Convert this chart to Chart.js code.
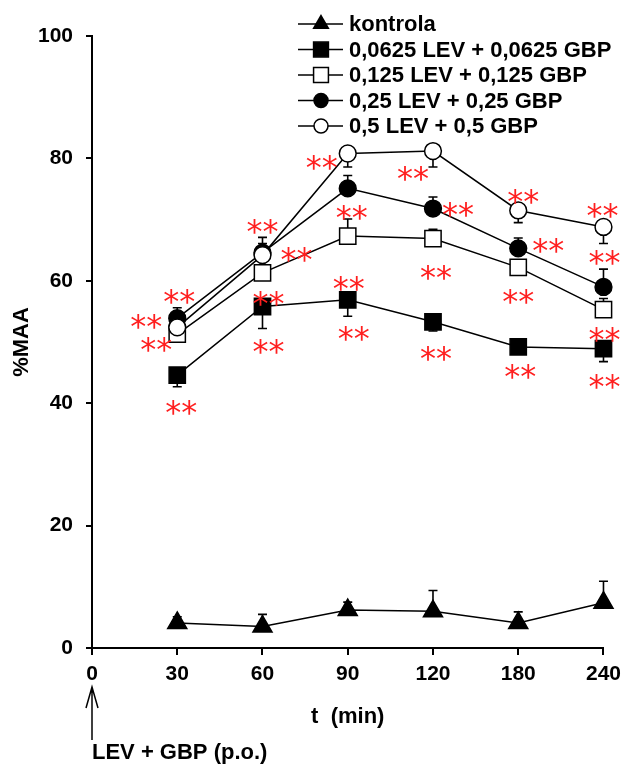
<!DOCTYPE html>
<html>
<head>
<meta charset="utf-8">
<script src="https://cdn.jsdelivr.net/npm/chart.js@4"></script>
<style>
html, body { margin: 0; padding: 0; background: #fff; }
#wrap { width: 628px; height: 764px; }
</style>
</head>
<body>
<div id="wrap"><canvas id="maaChart" width="628" height="764"></canvas></div>
<script>
// ===== PODACI =====
const vremena = ["0", "30", "60", "90", "120", "180", "240"];
const yPodela = [0, 20, 40, 60, 80, 100];
const nazivi = [
    "kontrola",
    "0,0625 LEV + 0,0625 GBP",
    "0,125 LEV + 0,125 GBP",
    "0,25 LEV + 0,25 GBP",
    "0,5 LEV + 0,5 GBP"
];

const kontrola    = [null, 4.1, 3.5, 6.2, 6.0, 4.1, 7.4];
const doza0625    = [null, 44.6, 55.8, 56.9, 53.3, 49.2, 48.9];
const doza125     = [null, 51.3, 61.3, 67.3, 66.9, 62.2, 55.3];
const doza25      = [null, 53.9, 64.6, 75.1, 71.8, 65.3, 59.0];
const doza5       = [null, 52.4, 64.2, 80.8, 81.2, 71.5, 68.8];

// SEM
const kontrolaSem = [null, 1.0, 2.0, 1.3, 3.4, 1.8, 3.5];
const doza0625Sem = [null, 1.9, 3.6, 2.7, 1.5, 0.8, 2.1];
const doza125Sem  = [null, 1.0, 1.0, 2.8, 1.5, 1.0, 1.8];
const doza25Sem   = [null, 1.7, 1.5, 2.1, 1.9, 1.7, 2.9];
const doza5Sem    = [null, 0.8, 2.9, 2.2, 2.6, 2.0, 2.7];

// ===== IZGLED =====
const FONT = "'Liberation Sans', Arial, sans-serif";
const serije = [kontrola, doza0625, doza125, doza25, doza5];
const greske = [kontrolaSem, doza0625Sem, doza125Sem, doza25Sem, doza5Sem];
// smer error bara: 1 gore, -1 dole
const smer = [
    [0, 1, 1, 1, 1, 1, 1],
    [0, -1, -1, -1, -1, -1, -1],
    [0, 1, 1, 1, 1, 1, 1],
    [0, 1, 1, 1, 1, 1, 1],
    [0, -1, 1, -1, -1, -1, -1]
];
const markeri = [
    { style: "triangle", r: 11, fill: "#000", lr: 8.5 },
    { style: "rect", r: 11.5, fill: "#000", lr: 10.5 },
    { style: "rect", r: 11.5, fill: "#fff", lr: 10.5 },
    { style: "circle", r: 8.4, fill: "#000", lr: 7 },
    { style: "circle", r: 8.4, fill: "#fff", lr: 7 }
];
// zvezdice: [serija, tacka, dx, dy] u pikselima od tacke
const zvezdice = [
    [3, 1, 2, -25], [3, 1, -31, 0], [2, 1, -21, 7], [1, 1, 4, 29],
    [4, 2, 0, -32], [3, 2, 34, -2], [1, 2, 6, -12], [1, 2, 6, 36],
    [4, 3, -26, 5], [3, 3, 4, 21], [1, 3, 1, -20], [1, 3, 6, 30],
    [4, 4, -20, 19], [3, 4, 25, -3], [2, 4, 3, 30], [1, 4, 3, 28],
    [4, 5, 5, -17], [3, 5, 30, -6], [2, 5, 0, 26], [1, 5, 2, 21],
    [4, 6, -1, -20], [4, 6, 1, 27], [2, 6, 1, 21], [1, 6, 1, 29]
];

function nacrtajMarker(ctx, style, r, x, y) {
    ctx.beginPath();
    if (style === "circle") {
        ctx.arc(x, y, r, 0, Math.PI * 2);
    } else if (style === "rect") {
        const s = r * Math.SQRT1_2;
        ctx.rect(x - s, y - s, 2 * s, 2 * s);
    } else {
        const w = r * Math.sin(Math.PI / 3);
        ctx.moveTo(x, y - r);
        ctx.lineTo(x + w, y + r / 2);
        ctx.lineTo(x - w, y + r / 2);
        ctx.closePath();
    }
    ctx.fill();
    ctx.stroke();
}

const errorBarovi = {
    id: "errorBarovi",
    beforeDatasetsDraw(chart) {
        const ctx = chart.ctx;
        const y = chart.scales.y;
        ctx.save();
        ctx.strokeStyle = "#000";
        ctx.lineWidth = 1.6;
        serije.forEach((s, i) => {
            const meta = chart.getDatasetMeta(i);
            s.forEach((v, j) => {
                if (v === null || !greske[i][j]) return;
                const p = meta.data[j];
                const y1 = y.getPixelForValue(v + smer[i][j] * greske[i][j]);
                ctx.beginPath();
                ctx.moveTo(p.x, p.y);
                ctx.lineTo(p.x, y1);
                ctx.moveTo(p.x - 4.5, y1);
                ctx.lineTo(p.x + 4.5, y1);
                ctx.stroke();
            });
        });
        ctx.restore();
    }
};

const zvezdicePlugin = {
    id: "zvezdice",
    afterDatasetsDraw(chart) {
        const ctx = chart.ctx;
        ctx.save();
        ctx.fillStyle = "#ff1f1f";
        ctx.font = "32px 'DejaVu Sans'";
        ctx.textAlign = "center";
        ctx.textBaseline = "alphabetic";
        zvezdice.forEach(([i, j, dx, dy]) => {
            const p = chart.getDatasetMeta(i).data[j];
            ctx.fillText("**", p.x + dx, p.y + dy + 19);
        });
        ctx.restore();
    }
};

const legenda = {
    id: "legenda",
    afterDraw(chart) {
        const ctx = chart.ctx;
        ctx.save();
        ctx.font = "bold 22px " + FONT;
        ctx.textBaseline = "middle";
        ctx.textAlign = "left";
        nazivi.forEach((n, i) => {
            const y = 24 + i * 25.5;
            ctx.strokeStyle = "#000";
            ctx.lineWidth = 1.5;
            ctx.beginPath();
            ctx.moveTo(298, y);
            ctx.lineTo(343, y);
            ctx.stroke();
            ctx.fillStyle = markeri[i].fill;
            nacrtajMarker(ctx, markeri[i].style, markeri[i].lr, 321, y);
            ctx.fillStyle = "#000";
            ctx.fillText(n, 349, y + 1);
        });
        ctx.restore();
    }
};

const strelica = {
    id: "strelica",
    afterDraw(chart) {
        const ctx = chart.ctx;
        const x0 = chart.scales.x.getPixelForValue(0);
        ctx.save();
        ctx.strokeStyle = "#000";
        ctx.lineWidth = 1.5;
        ctx.beginPath();
        ctx.moveTo(x0, 740);
        ctx.lineTo(x0, 687);
        ctx.moveTo(x0 - 6, 708);
        ctx.lineTo(x0, 687);
        ctx.lineTo(x0 + 6, 708);
        ctx.stroke();
        ctx.fillStyle = "#000";
        ctx.font = "bold 22px " + FONT;
        ctx.textBaseline = "middle";
        ctx.fillText("LEV + GBP (p.o.)", x0, 753);
        ctx.restore();
    }
};

// ===== GRAFIK =====
const tickFont = { family: FONT, weight: "bold", size: 21 };
const titleFont = { family: FONT, weight: "bold", size: 22 };

new Chart(document.getElementById("maaChart"), {
    type: "line",
    data: {
        labels: vremena,
        datasets: serije.map((s, i) => ({
            label: nazivi[i],
            data: s,
            order: 4 - i,
            borderColor: "#000",
            borderWidth: 1.5,
            pointStyle: markeri[i].style,
            pointRadius: markeri[i].r,
            pointBackgroundColor: markeri[i].fill,
            pointBorderColor: "#000",
            pointBorderWidth: 1.5,
            tension: 0
        }))
    },
    options: {
        responsive: false,
        animation: false,
        layout: { padding: { top: 36, right: 19, bottom: 0, left: 0 } },
        plugins: {
            legend: { display: false },
            tooltip: { enabled: false }
        },
        scales: {
            x: {
                grid: { drawOnChartArea: false, color: "#000", lineWidth: 2, tickLength: 7 },
                border: { color: "#000", width: 2 },
                ticks: { color: "#000", font: tickFont, padding: 7, maxRotation: 0, autoSkip: false },
                title: {
                    display: true, text: "t  (min)", color: "#000", font: titleFont,
                    padding: { top: 0, bottom: 34 }
                },
                afterFit: s => { s.height = 116; }
            },
            y: {
                min: 0,
                max: 100,
                afterBuildTicks: s => { s.ticks = yPodela.map(v => ({ value: v })); },
                grid: { drawOnChartArea: false, color: "#000", lineWidth: 2, tickLength: 6 },
                border: { color: "#000", width: 2 },
                ticks: { color: "#000", font: tickFont, padding: 13 },
                title: {
                    display: true, text: "%MAA", color: "#000", font: titleFont,
                    padding: { top: 9, bottom: 0 }
                },
                afterFit: s => { s.width = 92; }
            }
        }
    },
    plugins: [errorBarovi, zvezdicePlugin, legenda, strelica]
});
</script>
</body>
</html>
